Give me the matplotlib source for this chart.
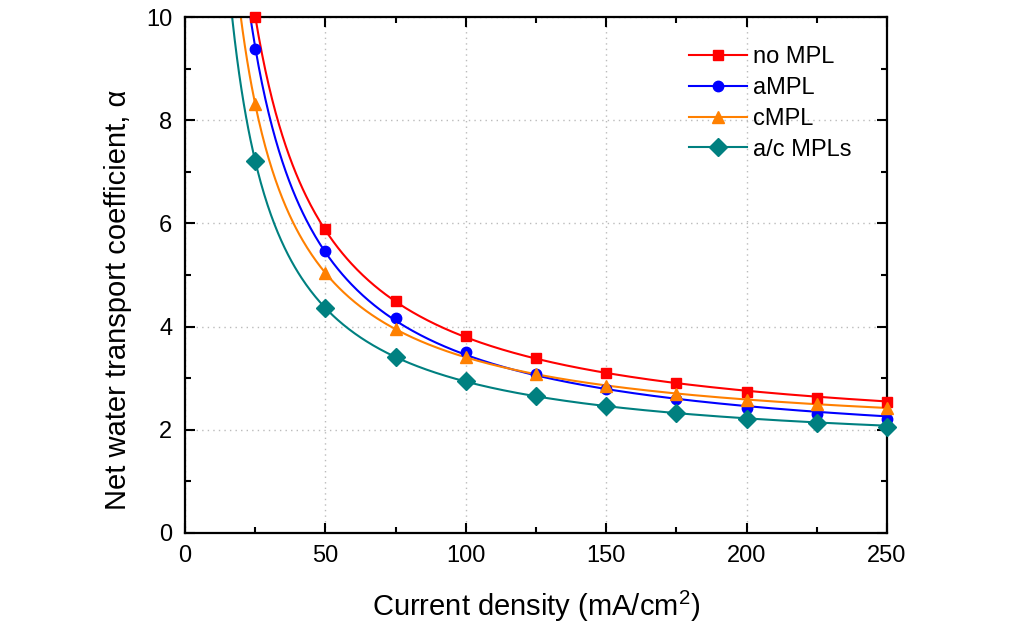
import numpy as np
import matplotlib.pyplot as plt
from matplotlib.lines import Line2D

plt.rcParams['font.family'] = ['Liberation Sans', 'DejaVu Sans']
plt.rcParams['mathtext.fontset'] = 'custom'
plt.rcParams['mathtext.rm'] = 'Liberation Sans'
plt.rcParams['mathtext.default'] = 'regular'

# data
current = [25, 50, 75, 100, 125, 150, 175, 200, 225, 250]
no_mpl = [10.0, 5.89, 4.50, 3.81, 3.40, 3.11, 2.90, 2.74, 2.62, 2.53]
a_mpl = [9.38, 5.47, 4.16, 3.51, 3.09, 2.80, 2.59, 2.42, 2.31, 2.21]
c_mpl = [8.31, 5.04, 3.95, 3.42, 3.08, 2.85, 2.69, 2.58, 2.50, 2.43]
ac_mpls = [7.20, 4.37, 3.42, 2.95, 2.66, 2.47, 2.32, 2.21, 2.13, 2.06]

labels = ['no MPL', 'aMPL', 'cMPL', 'a/c MPLs']
colors = ['#FF0000', '#0000FF', '#FF8000', '#008080']
markers = ['s', 'o', '^', 'D']
msizes = [7.5, 7.5, 9, 9]

fig = plt.figure(figsize=(10.3, 6.28), dpi=100)
ax = fig.add_axes([0.1796, 0.1513, 0.6816, 0.8216])

x = np.array(current, dtype=float)
xf = np.linspace(8, 250, 600)
handles = []
for y, lab, c, m, ms in zip([no_mpl, a_mpl, c_mpl, ac_mpls], labels, colors, markers, msizes):
    # fit y = a + b/x
    b, a = np.polyfit(1.0 / x, np.array(y), 1)
    ax.plot(xf, a + b / xf, color=c, lw=1.5, zorder=2)
    ax.plot(x, y, linestyle='none', marker=m, color=c, ms=ms, zorder=3, clip_on=False)
    handles.append(Line2D([], [], color=c, lw=1.5, marker=m, ms=ms))

ax.set_xlim(0, 250)
ax.set_ylim(0, 10)
ax.set_xticks(range(0, 251, 50))
ax.set_xticks(range(0, 251, 25), minor=True)
ax.set_yticks(range(0, 11, 2))
ax.set_yticks(range(0, 11, 1), minor=True)
ax.grid(True, which='major', color='#BBBBBB', linestyle=(0, (1, 3)), lw=1)
ax.tick_params(which='both', direction='in', top=True, right=True, width=1.5)
ax.tick_params(which='major', length=7.5, labelsize=17)
ax.tick_params(axis='x', which='major', pad=9)
ax.tick_params(axis='y', which='major', pad=9)
ax.tick_params(which='minor', length=4)
for s in ax.spines.values():
    s.set_linewidth(1.6)

ax.set_xlabel('Current density (mA/cm$^2$)', fontsize=21, labelpad=15)
ax.set_ylabel('Net water transport coefficient, α', fontsize=21, labelpad=10, y=0.452)

ax.legend(handles, labels, loc='upper left', bbox_to_anchor=(0.669, 0.927),
          bbox_transform=fig.transFigure, borderpad=0, borderaxespad=0,
          frameon=False, fontsize=17, handlelength=2.45, labelspacing=0.38,
          handletextpad=0.25)

fig.savefig('out.png', dpi=100)
